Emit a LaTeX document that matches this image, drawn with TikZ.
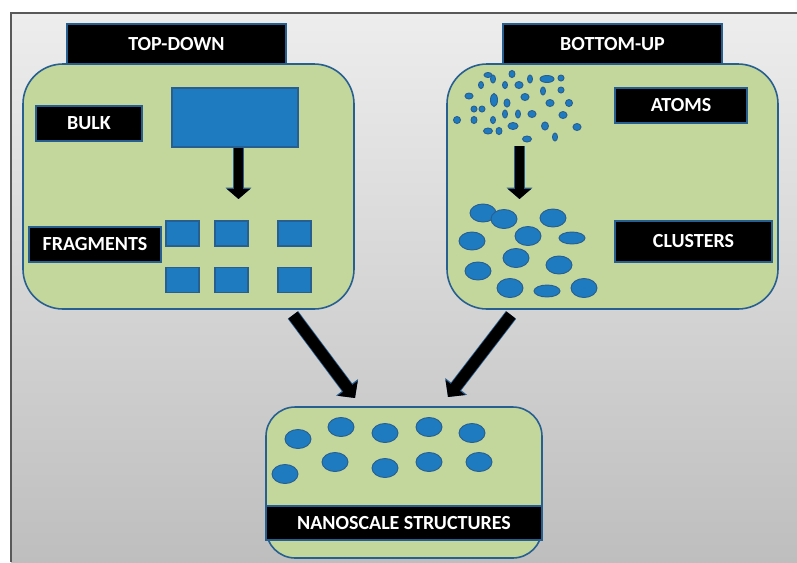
\documentclass[tikz,border=0pt]{standalone}
\usepackage{fontspec}
\setmainfont{Carlito}
\usetikzlibrary{arrows.meta}

\definecolor{fondoarriba}{RGB}{237,237,237}
\definecolor{fondoabajo}{RGB}{190,190,190}
\definecolor{verdecaja}{RGB}{195,214,155}
\definecolor{azulborde}{RGB}{40,95,145}
\definecolor{azulrelleno}{RGB}{31,123,192}

\tikzset{
  caja/.style={draw=azulborde, line width=1.2pt, fill=verdecaja, rounded corners=30pt},
  etiqueta/.style={draw=azulborde, line width=1pt, fill=black, text=white,
    font=\fontsize{15}{17}\selectfont\bfseries, inner sep=0pt},
  bloque/.style={draw=azulborde, line width=0.8pt, fill=azulrelleno, inner sep=0pt},
  punto/.style={draw=azulborde, line width=0.7pt, fill=azulrelleno},
  flechita/.style={preaction={draw=azulborde, line width=8.2pt, -{Triangle[length=8.5pt, width=19pt]}},
    draw=black, line width=7pt, -{Triangle[length=7.5pt, width=17pt]}},
  flechota/.style={preaction={draw=azulborde, line width=9.7pt, -{Triangle[length=10pt, width=20pt]}},
    draw=black, line width=8.5pt, -{Triangle[length=9pt, width=18pt]}}
}

\begin{document}
\begin{tikzpicture}[x=0.75pt, y=-0.75pt]
  \useasboundingbox (0,0) rectangle (797,562);

  % Fondo
  \fill[white] (0,0) rectangle (797,562);
  \shade[top color=fondoarriba, bottom color=fondoabajo] (11,13) rectangle (797,562);
  \draw[gray!70!black, line width=0.8pt] (797,13) -- (11,13) -- (11,562);

  % Caja TOP-DOWN
  \node[caja, minimum width=331*0.75pt, minimum height=245*0.75pt] (td) at (188.5,186.5) {};
  \node[etiqueta, minimum width=219*0.75pt, minimum height=40*0.75pt] (tdlabel) at (176.5,44) {TOP-DOWN};
  \node[etiqueta, minimum width=106*0.75pt, minimum height=35*0.75pt] (bulklabel) at (89,123.5) {BULK};
  \node[bloque, minimum width=126*0.75pt, minimum height=59*0.75pt] (bulk) at (235,117.5) {};
  \node[etiqueta, minimum width=132*0.75pt, minimum height=35*0.75pt] (fraglabel) at (95,244.5) {FRAGMENTS};

  % Fragmentos
  \node[bloque, minimum width=33*0.75pt, minimum height=25*0.75pt] (f1) at (182.5,233.5) {};
  \node[bloque, minimum width=33*0.75pt, minimum height=25*0.75pt] (f2) at (231.5,233.5) {};
  \node[bloque, minimum width=33*0.75pt, minimum height=25*0.75pt] (f3) at (294.5,233.5) {};
  \node[bloque, minimum width=33*0.75pt, minimum height=25*0.75pt] (f4) at (182.5,280) {};
  \node[bloque, minimum width=33*0.75pt, minimum height=25*0.75pt] (f5) at (231.5,280) {};
  \node[bloque, minimum width=33*0.75pt, minimum height=25*0.75pt] (f6) at (294.5,280) {};

  % Flecha bulk -> fragmentos
  \coordinate (fragin) at (238.5,199);
  \draw[flechita] (fragin |- bulk.south) -- (fragin);

  % Caja BOTTOM-UP
  \node[caja, minimum width=331*0.75pt, minimum height=245*0.75pt] (bu) at (612.5,186.5) {};
  \node[etiqueta, minimum width=219*0.75pt, minimum height=40*0.75pt] (bulabel) at (612.5,44) {BOTTOM-UP};
  \node[etiqueta, minimum width=132*0.75pt, minimum height=35*0.75pt] (atomlabel) at (681,105.5) {ATOMS};
  \node[etiqueta, minimum width=157*0.75pt, minimum height=41*0.75pt] (cluslabel) at (693.5,241.5) {CLUSTERS};

  % Atomos
  \foreach \x/\y/\a/\b in {488/75/4/2.5, 493/79/2.5/4, 512/74/3/3.5, 530/79/2.5/4,
      547/79/7/3.5, 561/78/3/3, 481/85/2.5/3.5, 505/85/2.5/3.5, 519/85/4/3.5,
      543/91/2.5/4, 561/90/3/3, 469/96/4/3, 494/100/3.5/6.5, 525/97/4/3.5,
      507/103/3/4, 550/103/4/3.5, 569/103/3.5/3.5, 474/109/3/3, 482/109/3/3,
      505/114/2.5/4, 518/114/2.5/4, 532/114/4/3.5, 563/115/4/3.5, 457/120/3.5/3.5,
      474/120/3/3.5, 493/120/2.5/3.5, 513/126/5/3.5, 545/126/3.5/4, 577/127/4/3.5,
      488/131/4.5/3, 499/131/3/3.5, 555/137/2.5/4, 527/139/4.5/3}
    \draw[punto] (\x,\y) ellipse [x radius=\a, y radius=\b];

  % Flecha atomos -> clusters
  \coordinate (atomout) at (519.5,146);
  \coordinate (clusin) at (519.5,199);
  \draw[flechita] (atomout) -- (clusin);

  % Clusters
  \foreach \x/\y/\b in {483/213/9, 504/219/9.5, 553/218/9, 472/241/9, 528/236/9.5,
      572/238/6, 516/258/9.5, 478/271/9, 559/265/9, 510/288/9.5, 547/291/6, 584/288/9.5}
    \draw[punto] (\x,\y) ellipse [x radius=13, y radius=\b];

  % Caja nanoestructuras
  \node[caja, rounded corners=22pt, minimum width=276*0.75pt, minimum height=151*0.75pt] (nano) at (404,482.5) {};
  \node[etiqueta, minimum width=276*0.75pt, minimum height=34*0.75pt] (nanolabel) at (404,523) {NANOSCALE STRUCTURES};
  \foreach \x/\y in {298/439, 341/427, 385/433, 429/427, 472/433,
      285/474, 335/462, 385/468, 429/462, 479/462}
    \draw[punto] (\x,\y) ellipse [x radius=13, y radius=9.5];

  % Flechas hacia la caja final
  \coordinate (tdout) at (293,315);
  \coordinate (nanoinl) at (355,398);
  \coordinate (buout) at (511,315);
  \coordinate (nanoinr) at (448,397);
  \draw[flechota] (tdout) -- (nanoinl);
  \draw[flechota] (buout) -- (nanoinr);

\end{tikzpicture}
\end{document}
